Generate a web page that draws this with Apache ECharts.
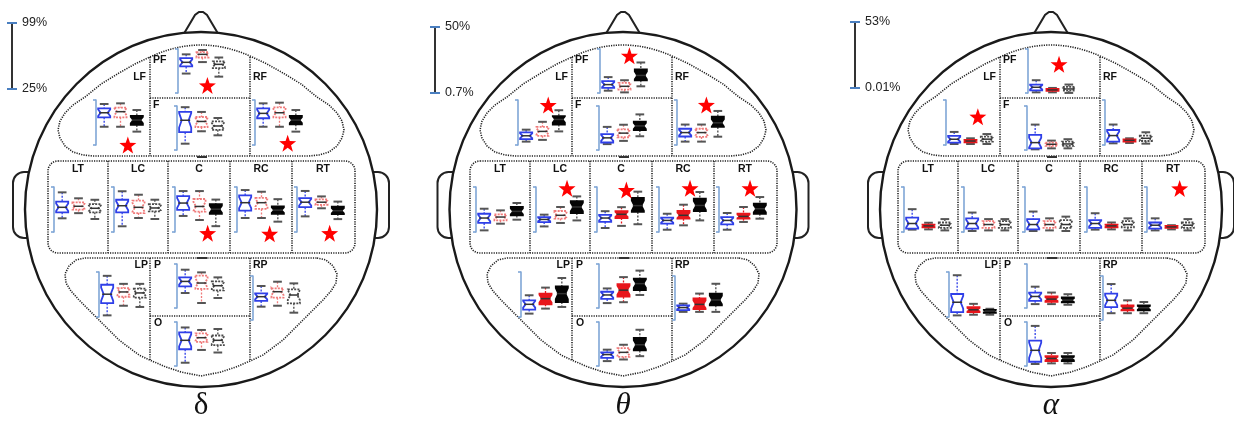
<!DOCTYPE html>
<html><head><meta charset="utf-8">
<script src="https://cdn.jsdelivr.net/npm/echarts@6/dist/echarts.min.js"></script>
<style>html,body{margin:0;padding:0;background:#fff}#c{width:1234px;height:421px}</style>
</head><body><div id="c"></div>
<script>
// ---------------- DATA ----------------
const regions = ['PF','LF','F','RF','LT','LC','C','RC','RT','LP','P','RP','O'];
// each box: [min, q1, median, q3, max] in percent
const deltaScale = [25, 99];
const deltaScaleLabels = ['99%', '25%'];
const deltaBlue = [[57.7,69.7,76.6,83.5,90],[55,70.5,78,85.3,92.4],[35.6,55,75,89,97],[55,69,77,85.3,93.5],[47.5,57.4,65.6,74.8,90.2],[34.4,57.4,68.2,78,92],[51.4,61.5,72.6,83.9,92.3],[48,60,73.2,85.3,94],[50.7,65.8,74,80.8,92.5],[27.7,47.8,62.5,78,92.7],[50.2,61.3,69.7,76.5,89.4],[47.4,57,64.2,69.8,82.2],[30.5,53.2,68.2,81.7,89.8]];
const deltaPink = [[77,84.7,90,93.8,97.3],[55,70.5,79.8,86.4,93.5],[56.5,63.7,73,80.5,89],[55,70.5,78,87,94.6],[56,61.7,67.3,73.8,80.4],[48,56.2,65.6,76.5,86.3],[44.7,58.6,67,79.3,92.3],[48,63,73.2,81,91.2],[64,69.6,74,78.5,83.5],[43.5,58.3,66.2,72.6,79.5],[33.4,57,67,79.3,84.9],[49,62.5,72.6,78.2,89.4],[52,65.5,72.6,80,85.6]];
const deltaBlack = [[52.5,66.8,73.2,78.3,84.7],[47,58,66,72.7,82.5],[49.7,59,65.4,73,78.8],[47,59,66,72.7,82.5],[46.4,57.4,64,71,78],[46.4,59,64.5,71,78.1],[34.6,54.8,62.5,70.9,78.3],[42,55,61,67.2,79],[46.2,54.6,60,66.8,75],[41.5,56.7,64.6,71.6,79.5],[41.8,54.6,62.5,69.7,76.5],[37.3,53,67,76.5,86.6],[47.7,60,68.2,76.3,87.2]];
const deltaPinkFilled  = [0,0,0,0,0,0,0,0,0,0,0,0,0];
const deltaBlackFilled = [0,1,0,1,0,0,1,1,1,0,0,0,0];
const deltaStars = [['PF',1.3,37.8],['LF',1.45,25],['RF',1.5,28],['C',1.5,23],['RC',1.5,22],['RT',1.5,23]];

const thetaScale = [0.7, 50];
const thetaScaleLabels = ['50%', '0.7%'];
const thetaBlue = [[3.3,6.4,10.1,13.9,18.5],[4.4,7.1,10.8,14.5,17.5],[7.3,9.1,14.3,18.5,26.6],[4.4,10,14.3,18.5,23.1],[2.5,10.6,16,20.7,26.2],[6.8,11.6,14.5,17.1,19.7],[5.1,11.9,16,19.4,23.5],[3.2,9.8,13.4,16.4,20.7],[3.2,9.1,13.4,17.1,21.5],[4.4,8.8,14.6,19,24.5],[6.2,10.9,15.3,18.9,22.6],[9.8,11.7,14.6,17.1,19],[6.2,9.8,13.5,16,19]];
const thetaPink = [[1.4,4.5,8.2,12.1,15],[6.3,10.8,15.6,20.5,26.1],[10.9,15,19.6,23.8,29],[4.4,9.6,14.3,18.5,23.1],[9.8,13.4,17.1,20,24.4],[10.6,15.4,19,23.7,28.1],[7.4,16,20.1,23.5,27.9],[8,15.3,19,23.7,30.6],[11.7,15.3,17.8,20.7,28.1],[9.9,14.6,20.8,26.3,32.9],[7.2,13.4,20.7,27.3,35.3],[9.8,12.8,18.2,24.8,30.3],[8,10.9,16,20.8,24.5]];
const thetaBlack = [[8.2,15,20.4,27.2,34.9],[15.6,23.1,28.7,32.4,38.8],[16.1,23,27.7,32.5,40.6],[9.8,20.5,25,31.7,38],[14.2,18.9,23.3,28.1,32.5],[13.4,21.5,28.1,34.6,39.7],[9.2,22.7,29.6,38.1,44.9],[13.4,23.7,29.8,37.2,44.5],[15.3,20.7,26.2,31.7,39],[11.7,17.1,26.3,34.3,43.4],[15.3,20.7,28,33.5,42.6],[9.8,17.1,23.1,30.3,41.3],[11.7,18.2,24.5,32.2,41.3]];
const thetaPinkFilled  = [0,0,0,0,0,0,1,1,1,1,1,1,0];
const thetaBlackFilled = [1,1,1,1,1,1,1,1,1,1,1,1,1];
const thetaStars = [['PF',1.3,42.4],['LF',1.35,44.4],['RF',1.3,44.5],['LC',1.4,48.5],['C',1.3,46.6],['RC',1.4,48.5],['RT',1.4,48.5]];

const alphaScale = [0.01, 53];
const alphaScaleLabels = ['53%', '0.01%'];
const alphaBlue = [[0.8,3.2,6.9,10.2,15.4],[1.2,2.7,6.8,10.7,15.4],[0.8,2,8.9,18.3,30.6],[2,4,11.1,17.7,24.1],[2.8,4,10,16.9,26.9],[1.2,4,10,16.1,22.9],[1.2,3.1,8.8,15.2,24.1],[2.8,4.8,10,14,22.1],[1.9,4,8,11.2,16.1],[1.9,5.8,17.4,27.1,49.2],[4.7,8.7,13.9,18.6,25.7],[8.2,15.5,23.7,31.8,43.3],[2.4,5.1,18.9,30.6,48.3]];
const alphaPink = [[0.8,2.5,3.7,4.9,6.1],[1.2,3.2,4.7,5.9,7.9],[2,4.9,6.9,8.9,11.3],[2.4,4,5.5,6.7,7.9],[3.1,5.5,7.2,8.8,10.9],[1.9,4.8,8.8,12.8,15.2],[1.9,4.8,8.8,12.8,16.1],[3.1,5.5,7.2,8.8,11.2],[3.1,4.8,6,7.2,8],[2.7,5.8,8.5,11.6,15.5],[4.7,7.5,10.7,13.9,18.6],[8.2,11.5,14.3,17.6,23.7],[3.2,5.9,9.1,11.8,15.7]];
const alphaBlack = [[0.1,2.8,4.9,7.3,10.2],[1.2,4,6.9,9.9,12.9],[2,4.9,7.3,10.1,13],[1.6,4.7,7.9,11.1,15],[1.9,4.8,8,11.2,15.2],[1.9,4.8,8.8,12.8,15.2],[1.2,4.8,8.8,14,18.1],[1.9,5.5,8.8,12.8,16.1],[1.9,4.8,8,11.2,15.2],[2.7,5,7,8.5,9.7],[3.9,6.8,9.5,12.7,16.6],[8.2,11.5,14.7,17.6,21.7],[3.2,5.9,9.1,11.8,15.7]];
const alphaPinkFilled  = [1,1,0,1,1,0,0,1,1,1,1,1,1];
const alphaBlackFilled = [0,0,0,0,0,0,0,0,0,1,1,1,1];
const alphaStars = [['PF',1.4,34.6],['LF',1.45,33.3],['RT',1.5,51.3]];

// ---------------- LAYOUT / STYLE ----------------
const heads = [
  {sym:'δ', italic:false, cx:201, rx:176, scaleX:12, scaleTop:23, scale:deltaScale, labels:deltaScaleLabels, blue:deltaBlue, pink:deltaPink, black:deltaBlack, pf:deltaPinkFilled, bf:deltaBlackFilled, stars:deltaStars},
  {sym:'θ', italic:true, cx:623, rx:173.5, scaleX:435, scaleTop:27, scale:thetaScale, labels:thetaScaleLabels, blue:thetaBlue, pink:thetaPink, black:thetaBlack, pf:thetaPinkFilled, bf:thetaBlackFilled, stars:thetaStars},
  {sym:'α', italic:true, cx:1051, rx:171, scaleX:855, scaleTop:22, scale:alphaScale, labels:alphaScaleLabels, blue:alphaBlue, pink:alphaPink, black:alphaBlack, pf:alphaPinkFilled, bf:alphaBlackFilled, stars:alphaStars}
];
const CY = 209.5, RY = 177.5;
// panel axis position relative to head centre: [dx, top, bottom]
const panelPos = {PF:[-23,49,93], LF:[-105,100,145], F:[-24,106,150], RF:[54,100,145],
  LT:[-147,187,232], LC:[-87,187,232], C:[-26,187,232], RC:[36,187,232], RT:[96,187,232],
  LP:[-102,272,317], P:[-24,264,308], RP:[52,276,320], O:[-24,322,366]};
const PANEL_W = 49;

const BLUE = '#2f3fe8', PINK = '#f07a7a', RED = '#e8161c', BLACK = '#050505', GRAY = '#4a4a4a';
const AXIS_BLUE = '#7fa6d6';
const STAR = 'path://M0,-10L2.35,-3.24L9.51,-3.09L3.8,1.24L5.88,8.09L0,4L-5.88,8.09L-3.8,1.24L-9.51,-3.09L-2.35,-3.24Z';

function renderBox(params, api) {
  const x = api.value(0);
  const v = [1,2,3,4,5].map(i => api.value(i));
  const kind = api.value(6), filled = api.value(7);
  const p = v.map(val => api.coord([x, val]));
  const px = p[0][0];
  const yMin = p[0][1], yQ1 = p[1][1], yMed = p[2][1], yQ3 = p[3][1], yMax = p[4][1];
  const hw = api.size([1, 0])[0] * 0.37;
  const nh = (yQ1 - yQ3) * 0.36;
  const nw = hw * 0.58;
  const cw = hw * 0.72;
  let col, wcol;
  if (kind === 0) { col = BLUE; wcol = BLUE; }
  else if (kind === 1) { col = filled ? RED : PINK; wcol = filled ? RED : PINK; }
  else { col = filled ? BLACK : GRAY; wcol = GRAY; }
  const dash = (kind !== 0 && !filled) ? [2, 1.2] : null;
  const wl = {stroke: wcol, lineWidth: 1.3, lineDash: [2, 1.5]};
  const capS = {stroke: '#555', lineWidth: 2};
  return {type: 'group', children: [
    {type: 'line', shape: {x1: px, y1: yMax, x2: px, y2: yQ3}, style: wl},
    {type: 'line', shape: {x1: px, y1: yQ1, x2: px, y2: yMin}, style: wl},
    {type: 'line', shape: {x1: px - cw, y1: yMax, x2: px + cw, y2: yMax}, style: capS},
    {type: 'line', shape: {x1: px - cw, y1: yMin, x2: px + cw, y2: yMin}, style: capS},
    {type: 'polygon', shape: {points: [[px-hw,yQ3],[px+hw,yQ3],[px+hw,yMed-nh],[px+nw,yMed],[px+hw,yMed+nh],[px+hw,yQ1],[px-hw,yQ1],[px-hw,yMed+nh],[px-nw,yMed],[px-hw,yMed-nh]]},
      style: {fill: filled ? col : '#fff', stroke: col, lineWidth: 1.8, lineDash: dash}},
    {type: 'line', shape: {x1: px - nw - 1.5, y1: yMed, x2: px + nw + 1.5, y2: yMed}, style: {stroke: '#333', lineWidth: 1.5}}
  ]};
}

const grids = [], xAxes = [], yAxes = [], series = [], graphics = [];
const dotted = {fill: null, stroke: '#222', lineWidth: 1.6, lineDash: [1.2, 1.2]};
function mirror(pts) { return pts.slice().reverse().map(p => [-p[0], p[1]]); }
const frontRight = [[66,64],[82,73],[100,84],[116,97],[128,105],[136,113],[141,121],[143,130],[141,138],[136,146],[128,152],[118,155],[108,156]];
const postRight = [[116,258],[125,260],[132,266],[136,274],[135,283],[130,291],[122,300],[102,320],[82,340],[62,355],[49,361],[35,367],[20,372],[0,376]];

function txt(x, y, text, font, align, valign, fill) {
  return {type: 'text', x: x, y: y, z: 5, style: {text: text, font: font, fill: fill || '#111', align: align, verticalAlign: valign, textAlign: align, textVerticalAlign: valign}};
}

heads.forEach((h, hi) => {
  const cx = h.cx;
  const T = (pts) => pts.map(p => [cx + p[0], p[1]]);
  // ears
  graphics.push({type: 'rect', z: 0, shape: {x: cx - h.rx - 12, y: 172, width: 34, height: 66, r: 11}, style: {fill: null, stroke: '#222', lineWidth: 2}});
  graphics.push({type: 'rect', z: 0, shape: {x: cx + h.rx - 22, y: 172, width: 34, height: 66, r: 11}, style: {fill: null, stroke: '#222', lineWidth: 2}});
  // nose
  graphics.push({type: 'polyline', z: 0, shape: {points: T([[-22,42],[-6,15],[-2,12],[2,12],[6,15],[22,42]])}, style: {fill: null, stroke: '#222', lineWidth: 2}});
  // head
  graphics.push({type: 'ellipse', z: 1, shape: {cx: cx, cy: CY, rx: h.rx, ry: RY}, style: {fill: '#fff', stroke: '#1a1a1a', lineWidth: 2.4}});
  // frontal region
  const top = [];
  for (let dx = -51; dx <= 51; dx += 6) top.push([dx, 45 + 12 * (dx / 51) * (dx / 51)]);
  top.push([51, 57]);
  graphics.push({type: 'polygon', z: 2, shape: {points: T(top.concat(frontRight, mirror(frontRight)))}, style: dotted});
  graphics.push({type: 'line', z: 2, shape: {x1: cx - 51, y1: 57, x2: cx - 51, y2: 156}, style: dotted});
  graphics.push({type: 'line', z: 2, shape: {x1: cx + 49, y1: 57, x2: cx + 49, y2: 156}, style: dotted});
  graphics.push({type: 'line', z: 2, shape: {x1: cx - 51, y1: 98, x2: cx + 49, y2: 98}, style: dotted});
  // central row
  graphics.push({type: 'rect', z: 2, shape: {x: cx - 153, y: 161, width: 307, height: 92, r: 10}, style: dotted});
  [-93, -33, 29, 91].forEach(d => graphics.push({type: 'line', z: 2, shape: {x1: cx + d, y1: 161, x2: cx + d, y2: 253}, style: dotted}));
  // posterior region
  graphics.push({type: 'polygon', z: 2, shape: {points: T(postRight.concat(mirror(postRight).slice(1)))}, style: dotted});
  graphics.push({type: 'line', z: 2, shape: {x1: cx - 51, y1: 258, x2: cx - 51, y2: 361}, style: dotted});
  graphics.push({type: 'line', z: 2, shape: {x1: cx + 49, y1: 258, x2: cx + 49, y2: 361}, style: dotted});
  graphics.push({type: 'line', z: 2, shape: {x1: cx - 51, y1: 316, x2: cx + 49, y2: 316}, style: dotted});
  // small dashes at junctions
  graphics.push({type: 'line', z: 2, shape: {x1: cx - 4, y1: 157, x2: cx + 6, y2: 157}, style: {stroke: '#333', lineWidth: 2}});
  graphics.push({type: 'line', z: 2, shape: {x1: cx - 4, y1: 258, x2: cx + 6, y2: 258}, style: {stroke: '#333', lineWidth: 2}});
  // region labels
  const lf = 'bold 10.5px "Liberation Sans", Arial, sans-serif';
  graphics.push(txt(cx - 48, 60, 'PF', lf, 'left', 'middle'));
  graphics.push(txt(cx - 55, 77, 'LF', lf, 'right', 'middle'));
  graphics.push(txt(cx - 48, 105, 'F', lf, 'left', 'middle'));
  graphics.push(txt(cx + 52, 77, 'RF', lf, 'left', 'middle'));
  [['LT',-123],['LC',-63],['C',-2],['RC',60],['RT',122]].forEach(a => graphics.push(txt(cx + a[1], 169, a[0], lf, 'center', 'middle')));
  graphics.push(txt(cx - 53, 265, 'LP', lf, 'right', 'middle'));
  graphics.push(txt(cx - 47, 265, 'P', lf, 'left', 'middle'));
  graphics.push(txt(cx + 52, 265, 'RP', lf, 'left', 'middle'));
  graphics.push(txt(cx - 47, 323, 'O', lf, 'left', 'middle'));
  // scale bar
  const sx = h.scaleX, st = h.scaleTop, sb = st + 66;
  graphics.push({type: 'line', z: 3, shape: {x1: sx, y1: st, x2: sx, y2: sb}, style: {stroke: '#333', lineWidth: 2}});
  graphics.push({type: 'line', z: 4, shape: {x1: sx - 5, y1: st, x2: sx + 5, y2: st}, style: {stroke: '#4a7fc0', lineWidth: 2}});
  graphics.push({type: 'line', z: 4, shape: {x1: sx - 5, y1: sb, x2: sx + 5, y2: sb}, style: {stroke: '#4a7fc0', lineWidth: 2}});
  const sf = '12.5px "Liberation Sans", Arial, sans-serif';
  graphics.push(txt(sx + 10, st, h.labels[0], sf, 'left', 'middle', '#222'));
  graphics.push(txt(sx + 10, sb, h.labels[1], sf, 'left', 'middle', '#222'));
  // band symbol
  graphics.push(txt(cx, 406, h.sym, (h.italic ? 'italic ' : '') + '31px "Liberation Serif", "DejaVu Serif", serif', 'center', 'middle', '#111'));

  // panels
  const lo = h.scale[0], range = h.scale[1] - h.scale[0];
  const sh = (b) => b.map(v => +(v - lo).toFixed(3));
  regions.forEach((r, ri) => {
    const g = grids.length;
    const pp = panelPos[r];
    grids.push({left: cx + pp[0], top: pp[1], width: PANEL_W, height: pp[2] - pp[1], containLabel: false, show: false});
    xAxes.push({gridIndex: g, type: 'value', min: -0.5, max: 2.5, show: false});
    yAxes.push({gridIndex: g, type: 'value', min: 0, max: +range.toFixed(3), interval: +range.toFixed(3), z: 8,
      axisLine: {show: true, onZero: false, lineStyle: {color: AXIS_BLUE, width: 1.6}},
      axisTick: {show: true, inside: false, length: 3, lineStyle: {color: AXIS_BLUE, width: 1.6}},
      axisLabel: {show: false}, splitLine: {show: false}});
    series.push({type: 'custom', xAxisIndex: g, yAxisIndex: g, silent: true, clip: false, z: 3,
      renderItem: renderBox,
      data: [[0].concat(sh(h.blue[ri]), [0, 0]), [1].concat(sh(h.pink[ri]), [1, h.pf[ri]]), [2].concat(sh(h.black[ri]), [2, h.bf[ri]])]});
    const stars = h.stars.filter(s => s[0] === r);
    if (stars.length) {
      series.push({type: 'scatter', xAxisIndex: g, yAxisIndex: g, silent: true, clip: false, z: 4,
        symbol: STAR, symbolSize: 17, itemStyle: {color: '#ff0000', opacity: 1},
        data: stars.map(s => [s[1], +(s[2] - lo).toFixed(3)])});
    }
  });
});

const chart = echarts.init(document.getElementById('c'), null, {renderer: 'canvas'});
chart.setOption({animation: false, backgroundColor: '#fff', grid: grids, xAxis: xAxes, yAxis: yAxes, series: series, graphic: {elements: graphics}});
</script></body></html>
